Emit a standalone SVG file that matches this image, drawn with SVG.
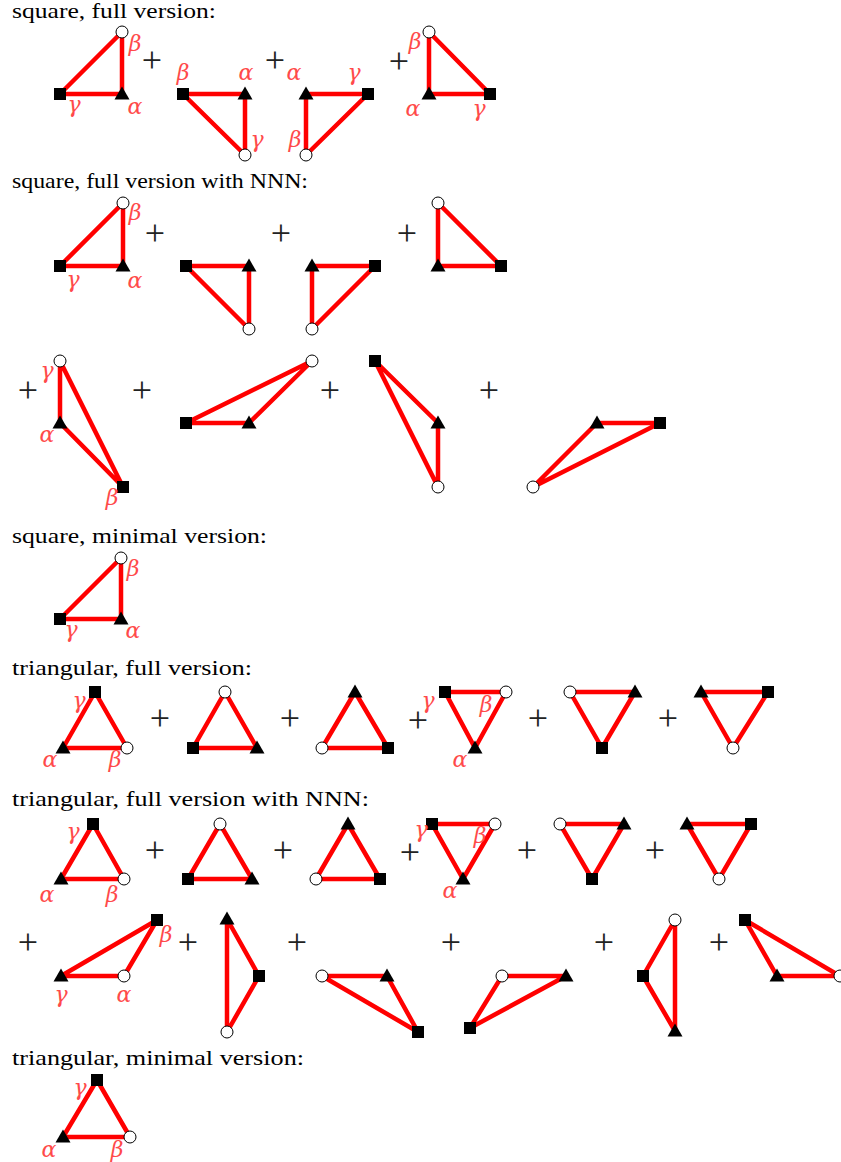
<svg xmlns="http://www.w3.org/2000/svg" xmlns:xlink="http://www.w3.org/1999/xlink" width="841" height="1162" viewBox="0 0 841 1162">
<style>
.title{font-family:"Liberation Serif",serif;font-size:22px;fill:#000}
.plus{font-family:"Liberation Serif",serif;font-size:36px;fill:#222;text-anchor:middle}
.lab{font-family:"DejaVu Serif",serif;font-style:italic;font-size:22px;fill:#ff4a4a;text-anchor:middle}
.e{fill:none;stroke:#ff0000;stroke-width:4.5;stroke-linejoin:round}
</style>
<defs>
<rect id="sq" x="-6" y="-6" width="12" height="12" fill="#000"/>
<path id="tri" d="M0,-7.5 L7.5,5.5 L-7.5,5.5 Z" fill="#000"/>
<circle id="ci" r="6" fill="#fff" stroke="#000" stroke-width="1"/>
</defs>
<rect width="841" height="1162" fill="#fff"/>

<g id="titles">
<text class="title" x="12" y="18" textLength="204" lengthAdjust="spacingAndGlyphs">square, full version:</text>
<text class="title" x="12" y="188" textLength="296" lengthAdjust="spacingAndGlyphs">square, full version with NNN:</text>
<text class="title" x="12" y="543" textLength="255" lengthAdjust="spacingAndGlyphs">square, minimal version:</text>
<text class="title" x="12" y="675" textLength="240" lengthAdjust="spacingAndGlyphs">triangular, full version:</text>
<text class="title" x="12" y="806" textLength="357" lengthAdjust="spacingAndGlyphs">triangular, full version with NNN:</text>
<text class="title" x="12" y="1065" textLength="292" lengthAdjust="spacingAndGlyphs">triangular, minimal version:</text>
</g>

<g id="connectors">
<path class="e" d="M60,94 L122,94 L122,32 Z"/>
<path class="e" d="M183,94 L245,94 L245,155 Z"/>
<path class="e" d="M306,94 L368,94 L306,155 Z"/>
<path class="e" d="M429,32 L429,94 L490,94 Z"/>
<path class="e" d="M60,266 L123,266 L123,203 Z"/>
<path class="e" d="M186,266 L249,266 L249,329 Z"/>
<path class="e" d="M312,266 L375,266 L312,329 Z"/>
<path class="e" d="M438,203 L438,266 L501,266 Z"/>
<path class="e" d="M60,361 L60,423 L123,487 Z"/>
<path class="e" d="M186,423 L249,423 L312,361 Z"/>
<path class="e" d="M375,361 L438,423 L438,487 Z"/>
<path class="e" d="M533,487 L597,423 L660,423 Z"/>
<path class="e" d="M121,558 L60,619 L121,619 Z"/>
<path class="e" d="M95,692 L63,748 L127,748 Z"/>
<path class="e" d="M225,692 L193,748 L257,748 Z"/>
<path class="e" d="M355,692 L322,748 L388,748 Z"/>
<path class="e" d="M445,692 L506,692 L475,748 Z"/>
<path class="e" d="M570,692 L635,692 L602,748 Z"/>
<path class="e" d="M701,692 L768,692 L733,748 Z"/>
<path class="e" d="M93,824 L61,879 L124,879 Z"/>
<path class="e" d="M220,824 L188,879 L252,879 Z"/>
<path class="e" d="M348,824 L316,879 L380,879 Z"/>
<path class="e" d="M432,824 L495,824 L463,879 Z"/>
<path class="e" d="M560,824 L624,824 L592,879 Z"/>
<path class="e" d="M687,824 L751,824 L719,879 Z"/>
<path class="e" d="M157,920 L61,976 L124,976 Z"/>
<path class="e" d="M227,919 L259,976 L227,1032 Z"/>
<path class="e" d="M322,976 L387,976 L418,1032 Z"/>
<path class="e" d="M502,976 L566,976 L470,1028 Z"/>
<path class="e" d="M675,920 L643,976 L675,1031 Z"/>
<path class="e" d="M745,920 L777,976 L840,976 Z"/>
<path class="e" d="M97,1080 L63,1137 L130,1137 Z"/>
</g>

<g id="nodes">
<use id="s1d1-sq" href="#sq" x="60" y="94"/><use id="s1d1-tri" href="#tri" x="122" y="94"/><use id="s1d1-ci" href="#ci" x="122" y="32"/>
<use id="s1d2-sq" href="#sq" x="183" y="94"/><use id="s1d2-tri" href="#tri" x="245" y="94"/><use id="s1d2-ci" href="#ci" x="245" y="155"/>
<use id="s1d3-tri" href="#tri" x="306" y="94"/><use id="s1d3-sq" href="#sq" x="368" y="94"/><use id="s1d3-ci" href="#ci" x="306" y="155"/>
<use id="s1d4-ci" href="#ci" x="429" y="32"/><use id="s1d4-tri" href="#tri" x="429" y="94"/><use id="s1d4-sq" href="#sq" x="490" y="94"/>
<use id="s2d1-sq" href="#sq" x="60" y="266"/><use id="s2d1-tri" href="#tri" x="123" y="266"/><use id="s2d1-ci" href="#ci" x="123" y="203"/>
<use id="s2d2-sq" href="#sq" x="186" y="266"/><use id="s2d2-tri" href="#tri" x="249" y="266"/><use id="s2d2-ci" href="#ci" x="249" y="329"/>
<use id="s2d3-tri" href="#tri" x="312" y="266"/><use id="s2d3-sq" href="#sq" x="375" y="266"/><use id="s2d3-ci" href="#ci" x="312" y="329"/>
<use id="s2d4-ci" href="#ci" x="438" y="203"/><use id="s2d4-tri" href="#tri" x="438" y="266"/><use id="s2d4-sq" href="#sq" x="501" y="266"/>
<use id="s2d5-ci" href="#ci" x="60" y="361"/><use id="s2d5-tri" href="#tri" x="60" y="423"/><use id="s2d5-sq" href="#sq" x="123" y="487"/>
<use id="s2d6-sq" href="#sq" x="186" y="423"/><use id="s2d6-tri" href="#tri" x="249" y="423"/><use id="s2d6-ci" href="#ci" x="312" y="361"/>
<use id="s2d7-sq" href="#sq" x="375" y="361"/><use id="s2d7-tri" href="#tri" x="438" y="423"/><use id="s2d7-ci" href="#ci" x="438" y="487"/>
<use id="s2d8-ci" href="#ci" x="533" y="487"/><use id="s2d8-tri" href="#tri" x="597" y="423"/><use id="s2d8-sq" href="#sq" x="660" y="423"/>
<use id="s3d1-ci" href="#ci" x="121" y="558"/><use id="s3d1-sq" href="#sq" x="60" y="619"/><use id="s3d1-tri" href="#tri" x="121" y="619"/>
<use id="s4d1-sq" href="#sq" x="95" y="692"/><use id="s4d1-tri" href="#tri" x="63" y="748"/><use id="s4d1-ci" href="#ci" x="127" y="748"/>
<use id="s4d2-ci" href="#ci" x="225" y="692"/><use id="s4d2-sq" href="#sq" x="193" y="748"/><use id="s4d2-tri" href="#tri" x="257" y="748"/>
<use id="s4d3-tri" href="#tri" x="355" y="692"/><use id="s4d3-ci" href="#ci" x="322" y="748"/><use id="s4d3-sq" href="#sq" x="388" y="748"/>
<use id="s4d4-sq" href="#sq" x="445" y="692"/><use id="s4d4-ci" href="#ci" x="506" y="692"/><use id="s4d4-tri" href="#tri" x="475" y="748"/>
<use id="s4d5-ci" href="#ci" x="570" y="692"/><use id="s4d5-tri" href="#tri" x="635" y="692"/><use id="s4d5-sq" href="#sq" x="602" y="748"/>
<use id="s4d6-tri" href="#tri" x="701" y="692"/><use id="s4d6-sq" href="#sq" x="768" y="692"/><use id="s4d6-ci" href="#ci" x="733" y="748"/>
<use id="s5d1-sq" href="#sq" x="93" y="824"/><use id="s5d1-tri" href="#tri" x="61" y="879"/><use id="s5d1-ci" href="#ci" x="124" y="879"/>
<use id="s5d2-ci" href="#ci" x="220" y="824"/><use id="s5d2-sq" href="#sq" x="188" y="879"/><use id="s5d2-tri" href="#tri" x="252" y="879"/>
<use id="s5d3-tri" href="#tri" x="348" y="824"/><use id="s5d3-ci" href="#ci" x="316" y="879"/><use id="s5d3-sq" href="#sq" x="380" y="879"/>
<use id="s5d4-sq" href="#sq" x="432" y="824"/><use id="s5d4-ci" href="#ci" x="495" y="824"/><use id="s5d4-tri" href="#tri" x="463" y="879"/>
<use id="s5d5-ci" href="#ci" x="560" y="824"/><use id="s5d5-tri" href="#tri" x="624" y="824"/><use id="s5d5-sq" href="#sq" x="592" y="879"/>
<use id="s5d6-tri" href="#tri" x="687" y="824"/><use id="s5d6-sq" href="#sq" x="751" y="824"/><use id="s5d6-ci" href="#ci" x="719" y="879"/>
<use id="s5d7-sq" href="#sq" x="157" y="920"/><use id="s5d7-tri" href="#tri" x="61" y="976"/><use id="s5d7-ci" href="#ci" x="124" y="976"/>
<use id="s5d8-tri" href="#tri" x="227" y="919"/><use id="s5d8-sq" href="#sq" x="259" y="976"/><use id="s5d8-ci" href="#ci" x="227" y="1032"/>
<use id="s5d9-ci" href="#ci" x="322" y="976"/><use id="s5d9-tri" href="#tri" x="387" y="976"/><use id="s5d9-sq" href="#sq" x="418" y="1032"/>
<use id="s5d10-ci" href="#ci" x="502" y="976"/><use id="s5d10-tri" href="#tri" x="566" y="976"/><use id="s5d10-sq" href="#sq" x="470" y="1028"/>
<use id="s5d11-ci" href="#ci" x="675" y="920"/><use id="s5d11-sq" href="#sq" x="643" y="976"/><use id="s5d11-tri" href="#tri" x="675" y="1031"/>
<use id="s5d12-sq" href="#sq" x="745" y="920"/><use id="s5d12-tri" href="#tri" x="777" y="976"/><use id="s5d12-ci" href="#ci" x="840" y="976"/>
<use id="s6d1-sq" href="#sq" x="97" y="1080"/><use id="s6d1-tri" href="#tri" x="63" y="1137"/><use id="s6d1-ci" href="#ci" x="130" y="1137"/>
</g>

<g id="labels">
<text class="lab" x="135" y="51">β</text><text class="lab" x="74" y="112">γ</text><text class="lab" x="135" y="114">α</text>
<text class="lab" x="183" y="80">β</text><text class="lab" x="246" y="80">α</text><text class="lab" x="257" y="147">γ</text>
<text class="lab" x="294" y="80">α</text><text class="lab" x="354" y="80">γ</text><text class="lab" x="295" y="147">β</text>
<text class="lab" x="415" y="49">β</text><text class="lab" x="413" y="116">α</text><text class="lab" x="479" y="116">γ</text>
<text class="lab" x="135" y="220">β</text><text class="lab" x="73" y="287">γ</text><text class="lab" x="135" y="288">α</text>
<text class="lab" x="47" y="378">γ</text><text class="lab" x="47" y="442">α</text><text class="lab" x="112" y="505">β</text>
<text class="lab" x="133" y="576">β</text><text class="lab" x="71" y="637">γ</text><text class="lab" x="133" y="638">α</text>
<text class="lab" x="79" y="708">γ</text><text class="lab" x="50" y="767">α</text><text class="lab" x="115" y="767">β</text>
<text class="lab" x="428" y="708">γ</text><text class="lab" x="486" y="712">β</text><text class="lab" x="460" y="767">α</text>
<text class="lab" x="73" y="839">γ</text><text class="lab" x="47" y="902">α</text><text class="lab" x="112" y="902">β</text>
<text class="lab" x="421" y="837">γ</text><text class="lab" x="480" y="843">β</text><text class="lab" x="450" y="898">α</text>
<text class="lab" x="166" y="942">β</text><text class="lab" x="61" y="1002">γ</text><text class="lab" x="124" y="1002">α</text>
<text class="lab" x="80" y="1095">γ</text><text class="lab" x="49" y="1157">α</text><text class="lab" x="117" y="1157">β</text>
</g>

<g id="plus-signs">
<text class="plus" x="152" y="72">+</text><text class="plus" x="275" y="72">+</text><text class="plus" x="399" y="73">+</text>
<text class="plus" x="155" y="245">+</text><text class="plus" x="281" y="245">+</text><text class="plus" x="407" y="245">+</text>
<text class="plus" x="28" y="402">+</text><text class="plus" x="142" y="402">+</text><text class="plus" x="330" y="402">+</text><text class="plus" x="489" y="402">+</text>
<text class="plus" x="160" y="730">+</text><text class="plus" x="290" y="730">+</text><text class="plus" x="418" y="732">+</text><text class="plus" x="538" y="730">+</text><text class="plus" x="668" y="730">+</text>
<text class="plus" x="155" y="862">+</text><text class="plus" x="283" y="862">+</text><text class="plus" x="410" y="864">+</text><text class="plus" x="527" y="862">+</text><text class="plus" x="655" y="862">+</text>
<text class="plus" x="28" y="954">+</text><text class="plus" x="188" y="954">+</text><text class="plus" x="297" y="954">+</text><text class="plus" x="451" y="954">+</text><text class="plus" x="604" y="954">+</text><text class="plus" x="719" y="954">+</text>
</g>
</svg>
